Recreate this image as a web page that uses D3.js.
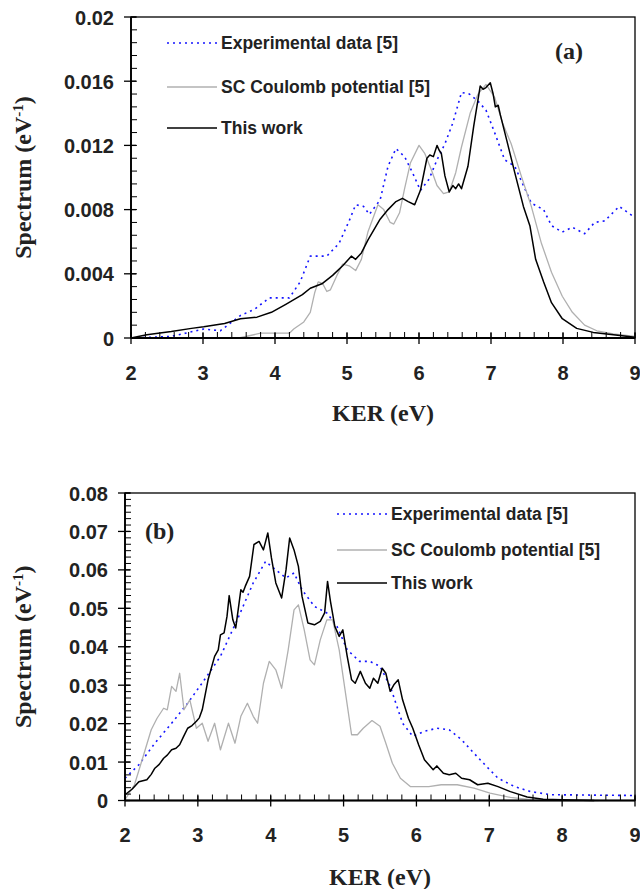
<!DOCTYPE html>
<html>
<head>
<meta charset="utf-8">
<script src="https://cdn.jsdelivr.net/npm/d3@7"></script>
<style>
  body { margin: 0; background: #fff; }
  svg { display: block; }
  .tick-label { font-family: "Liberation Sans", Arial, sans-serif; font-weight: bold; font-size: 20px; fill: #222; }
  .legend-text { font-family: "Liberation Sans", Arial, sans-serif; font-weight: bold; font-size: 17.5px; fill: #222; }
  .title { font-family: "Liberation Serif", "Times New Roman", serif; font-weight: bold; font-size: 24px; fill: #222; }
</style>
</head>
<body>
<script>
// panel (a) data, [KER, spectrum]
let expA = [[2,0],[2.56,0.0001],[3.01,0.00056],[3.24,0.00045],[3.52,0.0014],[3.72,0.0018],[3.92,0.0025],[4.2,0.0025],
  [4.35,0.0035],[4.49,0.0051],[4.72,0.0051],[4.89,0.0059],[5.03,0.0073],[5.12,0.0083],[5.23,0.0082],[5.31,0.0077],
  [5.46,0.0086],[5.57,0.0107],[5.68,0.0118],[5.8,0.0113],[5.91,0.0103],[6.02,0.0092],[6.14,0.0099],[6.25,0.0111],
  [6.36,0.0121],[6.47,0.0134],[6.59,0.0153],[6.7,0.0152],[6.81,0.0148],[6.93,0.0142],[7.05,0.0128],[7.19,0.0111],
  [7.33,0.0107],[7.45,0.0095],[7.56,0.0084],[7.73,0.008],[7.84,0.007],[7.99,0.0066],[8.13,0.0069],[8.3,0.0065],
  [8.44,0.0072],[8.58,0.0073],[8.78,0.0082],[9,0.0075]];

let scA = [[2,0],[3.5,0],[3.8,0.0003],[4.2,0.0003],[4.26,0.00056],[4.4,0.001],[4.49,0.0016],[4.55,0.0028],[4.6,0.0035],
  [4.66,0.0034],[4.72,0.0029],[4.77,0.003],[4.86,0.0039],[4.94,0.0046],[5.03,0.0045],[5.12,0.0042],[5.2,0.0049],
  [5.29,0.0066],[5.43,0.0083],[5.51,0.008],[5.6,0.0072],[5.65,0.0071],[5.73,0.0078],[5.8,0.0093],[5.88,0.0109],
  [6,0.012],[6.08,0.0115],[6.17,0.0105],[6.25,0.0095],[6.34,0.009],[6.42,0.0091],[6.51,0.0103],[6.59,0.0119],
  [6.71,0.014],[6.82,0.0152],[6.93,0.0158],[7.05,0.015],[7.16,0.0134],[7.28,0.0121],[7.42,0.0101],[7.56,0.0082],
  [7.7,0.0059],[7.84,0.0041],[7.99,0.0026],[8.13,0.0016],[8.3,0.0008],[8.47,0.00045],[8.7,0.00025],[9,0.0001]];

let workA = [[2,0],[2.22,0.0002],[2.56,0.0004],[2.84,0.0006],[3.01,0.0007],[3.3,0.0009],[3.52,0.0012],[3.75,0.0013],
  [3.95,0.0016],[4.15,0.0021],[4.38,0.0027],[4.49,0.0031],[4.66,0.0034],[4.8,0.0039],[4.94,0.0045],[5.06,0.0051],
  [5.12,0.0049],[5.2,0.0053],[5.29,0.0061],[5.46,0.0074],[5.57,0.008],[5.68,0.0085],[5.77,0.0087],[5.85,0.0085],
  [5.94,0.0083],[6.02,0.0092],[6.11,0.0112],[6.15,0.0114],[6.2,0.0113],[6.25,0.012],[6.28,0.0117],[6.31,0.0115],
  [6.36,0.0101],[6.42,0.0091],[6.47,0.0095],[6.51,0.0093],[6.55,0.0096],[6.59,0.0093],[6.68,0.0107],[6.76,0.0132],
  [6.85,0.0157],[6.89,0.0155],[6.93,0.0156],[6.99,0.0159],[7.03,0.0152],[7.06,0.0144],[7.1,0.0145],[7.13,0.0139],
  [7.22,0.0123],[7.33,0.0103],[7.45,0.0082],[7.54,0.007],[7.62,0.0049],[7.73,0.0035],[7.84,0.0022],
  [7.99,0.0012],[8.19,0.0006],[8.42,0.00035],[8.7,0.0002],[9,0.00005]];

// panel (b) data
let expB = [[2,0.0058],[2.19,0.0093],[2.41,0.0149],[2.64,0.0201],[2.86,0.0253],[3.09,0.0314],[3.31,0.0375],[3.54,0.047],
  [3.76,0.0566],[3.93,0.0622],[4.07,0.06],[4.21,0.0579],[4.32,0.0592],[4.43,0.0548],[4.6,0.0505],[4.77,0.0488],
  [4.91,0.0453],[5.05,0.0392],[5.22,0.0362],[5.36,0.0362],[5.5,0.0349],[5.64,0.0297],[5.81,0.0201],[5.95,0.0167],
  [6.11,0.018],[6.28,0.0188],[6.45,0.0184],[6.62,0.0158],[6.79,0.0123],[6.96,0.0089],[7.12,0.0058],[7.35,0.0036],
  [7.57,0.0023],[7.85,0.0015],[9,0.0013]];

let scB = [[2,0.0002],[2.13,0.0041],[2.25,0.0115],[2.36,0.0184],[2.44,0.0214],[2.53,0.024],[2.58,0.0236],[2.64,0.0297],
  [2.7,0.0284],[2.75,0.0331],[2.81,0.0236],[2.89,0.0262],[2.98,0.0188],[3.06,0.0201],[3.14,0.0154],[3.23,0.0201],
  [3.31,0.0132],[3.42,0.0201],[3.51,0.0149],[3.59,0.0219],[3.68,0.0253],[3.76,0.0219],[3.82,0.0201],[3.9,0.0305],
  [3.98,0.0362],[4.07,0.034],[4.15,0.0292],[4.24,0.0392],[4.32,0.0496],[4.38,0.0509],[4.46,0.0444],[4.54,0.0366],
  [4.6,0.0353],[4.68,0.0418],[4.77,0.047],[4.85,0.047],[4.94,0.0392],[5.02,0.0288],[5.11,0.0171],[5.19,0.0171],
  [5.27,0.0188],[5.39,0.0208],[5.5,0.0193],[5.58,0.0149],[5.67,0.0097],[5.78,0.0058],[5.92,0.0036],[6.17,0.0036],
  [6.34,0.0041],[6.56,0.0041],[6.79,0.0032],[7.01,0.0019],[7.29,0.0008],[7.57,0.0002],[8.13,0],[8.5,0]];

let workB = [[2,0.0015],[2.1,0.003],[2.19,0.0049],[2.3,0.0054],[2.36,0.0068],[2.41,0.0084],[2.47,0.0094],[2.53,0.011],
  [2.58,0.0118],[2.64,0.0132],[2.7,0.0136],[2.75,0.0145],[2.8,0.0165],[2.86,0.0188],[2.92,0.0195],[2.98,0.0206],
  [3.02,0.0215],[3.06,0.0236],[3.14,0.0314],[3.23,0.0375],[3.28,0.0392],[3.31,0.0431],[3.36,0.0436],[3.4,0.0479],
  [3.43,0.0533],[3.48,0.047],[3.52,0.0449],[3.59,0.0548],[3.62,0.0542],[3.65,0.0557],[3.71,0.0583],[3.77,0.0666],
  [3.84,0.0674],[3.9,0.0652],[3.96,0.0696],[4.01,0.0631],[4.07,0.0566],[4.15,0.0527],[4.21,0.06],[4.26,0.0683],
  [4.32,0.0652],[4.38,0.0609],[4.43,0.0531],[4.51,0.0462],[4.6,0.0457],[4.68,0.0466],[4.74,0.0488],[4.78,0.057],
  [4.82,0.0518],[4.88,0.0453],[4.94,0.0427],[4.99,0.0444],[5.05,0.0375],[5.11,0.0314],[5.16,0.0305],[5.23,0.0336],
  [5.3,0.0305],[5.36,0.0292],[5.41,0.0318],[5.47,0.0305],[5.53,0.0344],[5.58,0.0331],[5.64,0.0284],[5.69,0.0301],
  [5.75,0.0314],[5.81,0.0262],[5.89,0.0214],[5.95,0.0188],[6.03,0.0145],[6.11,0.0106],[6.23,0.008],[6.28,0.009],
  [6.37,0.0071],[6.45,0.0067],[6.54,0.0071],[6.62,0.0058],[6.73,0.0054],[6.84,0.0041],[6.98,0.0045],[7.12,0.0036],
  [7.29,0.0023],[7.52,0.0009],[7.74,0.0003],[8.13,0.0001],[8.44,0]];

let xTicks = [2, 3, 4, 5, 6, 7, 8, 9];
let yTicksA = [0, 0.004, 0.008, 0.012, 0.016, 0.02];
let yLabelsA = ["0", "0.004", "0.008", "0.012", "0.016", "0.02"];
let yTicksB = [0, 0.01, 0.02, 0.03, 0.04, 0.05, 0.06, 0.07, 0.08];
let yLabelsB = ["0", "0.01", "0.02", "0.03", "0.04", "0.05", "0.06", "0.07", "0.08"];
let legendNames = ["Experimental data [5]", "SC Coulomb potential [5]", "This work"];

let svg = d3.select("body").append("svg")
  .attr("width", 640)
  .attr("height", 889);

let styles = [
  { stroke: "#1414ff", width: 1.6, dash: "2,4" },
  { stroke: "#b0b0b0", width: 1.3, dash: null },
  { stroke: "#000", width: 1.5, dash: null }
];

function panel(opt) {
  let x = d3.scaleLinear().domain([2, 9]).range([opt.left, opt.right]);
  let y = d3.scaleLinear().domain([0, opt.ymax]).range([opt.bottom, opt.top]);
  let g = svg.append("g");

  // frame
  g.append("rect")
    .attr("x", opt.left).attr("y", opt.top)
    .attr("width", opt.right - opt.left).attr("height", opt.bottom - opt.top)
    .attr("fill", "none").attr("stroke", "#000").attr("stroke-width", 1.3);

  let line = d3.line().x(d => x(d[0])).y(d => y(d[1]));

  [opt.exp, opt.sc, opt.work].forEach((data, i) => {
    g.append("path")
      .datum(data)
      .attr("d", line)
      .attr("fill", "none")
      .attr("stroke", styles[i].stroke)
      .attr("stroke-width", styles[i].width)
      .attr("stroke-dasharray", styles[i].dash)
      .attr("stroke-linejoin", "round");
  });

  // axis lines
  g.append("line").attr("x1", opt.left).attr("x2", opt.left).attr("y1", opt.top).attr("y2", opt.bottom)
    .attr("stroke", "#000").attr("stroke-width", 1.8);
  g.append("line").attr("x1", opt.left).attr("x2", opt.right).attr("y1", opt.bottom).attr("y2", opt.bottom)
    .attr("stroke", "#000").attr("stroke-width", 1.8);

  // x minor ticks every 0.2
  d3.range(2, 9.001, 0.2).forEach(v => {
    g.append("line").attr("x1", x(v)).attr("x2", x(v)).attr("y1", opt.bottom).attr("y2", opt.bottom - 6)
      .attr("stroke", "#000").attr("stroke-width", 1);
  });
  xTicks.forEach(v => {
    g.append("line").attr("x1", x(v)).attr("x2", x(v)).attr("y1", opt.bottom - 5).attr("y2", opt.bottom + 6)
      .attr("stroke", "#000").attr("stroke-width", 1.3);
    g.append("text").attr("class", "tick-label")
      .attr("x", x(v)).attr("y", opt.xLabelY)
      .attr("text-anchor", "middle").text(v);
  });

  // y ticks
  let step = opt.yTicks[1] / opt.minorPer;
  d3.range(0, opt.ymax + step / 2, step).forEach(v => {
    g.append("line").attr("x1", opt.left).attr("x2", opt.left + 6).attr("y1", y(v)).attr("y2", y(v))
      .attr("stroke", "#000").attr("stroke-width", 1);
  });
  opt.yTicks.forEach((v, i) => {
    g.append("line").attr("x1", opt.left - 7).attr("x2", opt.left + 5).attr("y1", y(v)).attr("y2", y(v))
      .attr("stroke", "#000").attr("stroke-width", 1.3);
    g.append("text").attr("class", "tick-label")
      .attr("x", opt.left - 17).attr("y", y(v) + 7.5)
      .attr("text-anchor", "end").text(opt.yLabels[i]);
  });

  // axis titles
  g.append("text").attr("class", "title")
    .attr("x", (opt.left + opt.right) / 2).attr("y", opt.xTitleY)
    .attr("text-anchor", "middle").text("KER (eV)");

  let yt = g.append("text").attr("class", "title")
    .attr("transform", `translate(31,${(opt.top + opt.bottom) / 2}) rotate(-90)`)
    .attr("text-anchor", "middle");
  yt.append("tspan").text("Spectrum (eV");
  yt.append("tspan").attr("dy", -8).attr("font-size", 15).text("-1");
  yt.append("tspan").attr("dy", 8).text(")");

  // legend
  legendNames.forEach((name, i) => {
    let ly = opt.legY[i];
    g.append("line").attr("x1", opt.legX).attr("x2", opt.legX + 50).attr("y1", ly).attr("y2", ly)
      .attr("stroke", styles[i].stroke).attr("stroke-width", styles[i].width)
      .attr("stroke-dasharray", styles[i].dash);
    g.append("text").attr("class", "legend-text")
      .attr("x", opt.legX + 54).attr("y", ly + 6).text(name);
  });

  g.append("text").attr("class", "title")
    .attr("x", opt.tagX).attr("y", opt.tagY)
    .attr("font-size", 22).text(opt.tag);
}

panel({
  left: 131, right: 635, top: 17, bottom: 338, ymax: 0.02,
  yTicks: yTicksA, yLabels: yLabelsA, minorPer: 5,
  exp: expA, sc: scA, work: workA,
  xLabelY: 380, xTitleY: 421,
  legX: 167, legY: [43, 87, 128],
  tag: "(a)", tagX: 555, tagY: 59
});

panel({
  left: 125, right: 635, top: 493, bottom: 800.5, ymax: 0.08,
  yTicks: yTicksB, yLabels: yLabelsB, minorPer: 6,
  exp: expB, sc: scB, work: workB,
  xLabelY: 842, xTitleY: 885,
  legX: 337, legY: [514, 550, 583],
  tag: "(b)", tagX: 145, tagY: 539
});
</script>
</body>
</html>
